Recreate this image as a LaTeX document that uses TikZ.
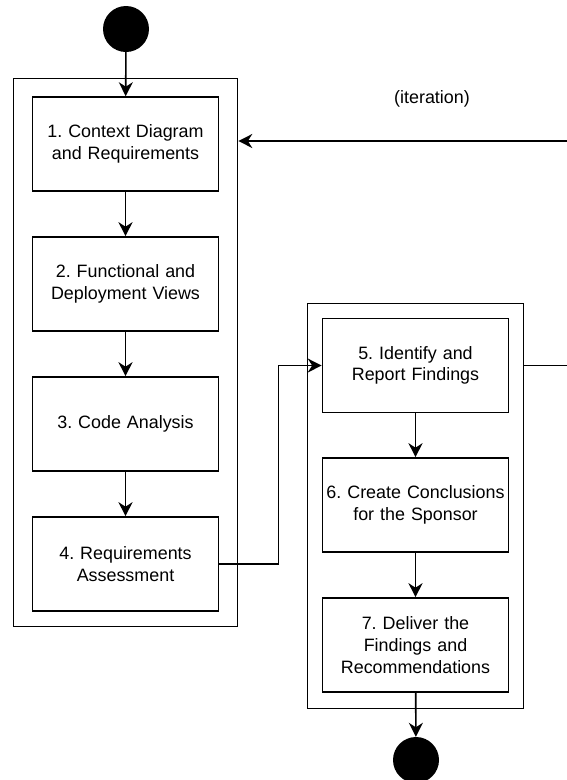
\documentclass[tikz,border=0pt]{standalone}
\usepackage{fontspec}
\setmainfont{Liberation Sans}
\usetikzlibrary{arrows.meta}
\frenchspacing
\begin{document}
\begin{tikzpicture}[x=1pt,y=-1pt,
  every node/.style={font=\fontsize{17.9}{21.6}\selectfont},
  stepbox/.style={draw, line width=1.6pt, minimum width=186pt, minimum height=94pt,
    inner sep=0pt, align=center, text width=184pt},
  frame/.style={draw, line width=1.6pt, inner sep=0pt},
  dot/.style={circle, fill=black, minimum size=46pt, inner sep=0pt},
  arr/.style={line width=1.6pt, -{Stealth[length=14pt,width=14pt,inset=4.5pt]}},
  wire/.style={line width=1.6pt}]
\useasboundingbox (0,0) rectangle (567,780);

% group frames
\node[frame, minimum width=224pt, minimum height=548pt] (lc) at (125.5,352.5) {};
\node[frame, minimum width=216pt, minimum height=405pt] (rc) at (415.5,506) {};

% start and end points
\node[dot] (start) at (126,29) {};
\node[dot] (stop) at (416,760) {};

% first phase
\node[stepbox] (b1) at (125.5,144) {1. Context Diagram\\and Requirements};
\node[stepbox] (b2) at (125.5,284) {2. Functional and\\Deployment Views};
\node[stepbox] (b3) at (125.5,424) {3. Code Analysis};
\node[stepbox] (b4) at (125.5,564) {4. Requirements\\Assessment};

% second phase
\node[stepbox] (b5) at (415.5,365.5) {5. Identify and\\Report Findings};
\node[stepbox] (b6) at (415.5,505) {6. Create Conclusions\\for the Sponsor};
\node[stepbox] (b7) at (415.5,645) {7. Deliver the\\Findings and\\Recommendations};

\node (itlabel) at (432,99) {(iteration)};
\coordinate (loopIn) at (567,141);
\coordinate (loopOut) at (567,365.5);

% flow
\draw[arr] (start) -- (b1);
\draw[arr] (b1) -- (b2);
\draw[arr] (b2) -- (b3);
\draw[arr] (b3) -- (b4);
\draw[arr] (b4.east) -- ++(59,0) |- (b5.west);
\draw[arr] (b5) -- (b6);
\draw[arr] (b6) -- (b7);
\draw[arr] (b7) -- (stop);
\draw[wire] (b5.east -| rc.east) -- (loopOut);
\draw[arr] (loopIn) -- (loopIn -| lc.east);
\end{tikzpicture}
\end{document}
